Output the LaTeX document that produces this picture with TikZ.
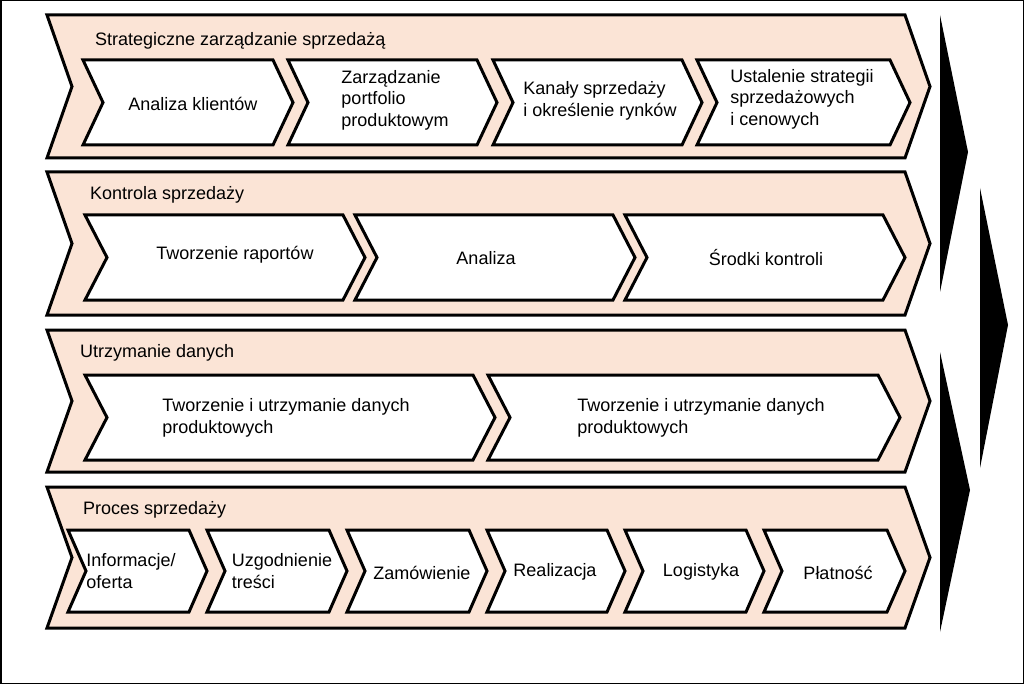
\documentclass[tikz,border=0pt]{standalone}
\usepackage{fontspec}
\setmainfont{Liberation Sans}
\definecolor{bandfill}{RGB}{251,228,214}
\tikzset{
  band/.style={draw=black, line width=3pt, fill=bandfill, line join=miter},
  step box/.style={draw=black, line width=3pt, fill=white, line join=miter},
  lbl/.style={font=\fontsize{18}{21.5}\selectfont, align=left, inner sep=0pt},
}
% chevron: x1, x2, ytop, ybottom, depth
\def\chev#1#2#3#4#5{(#1,#3) -- ({#2-#5},#3) -- (#2,{(#3+#4)/2}) -- ({#2-#5},#4) -- (#1,#4) -- ({#1+#5},{(#3+#4)/2}) -- cycle}
\begin{document}
\begin{tikzpicture}[x=1pt,y=-1pt]
    \useasboundingbox (0,0) rectangle (1024,684);
    \draw[line width=1.5pt] (0.75,0.75) rectangle (1023.25,683.25);

    % Bands
    \foreach \yt/\yb in {15/158, 172/315, 330/472, 487/628} {
        \draw[band] \chev{47}{930}{\yt}{\yb}{25};
    }

    % Band titles
    \node[lbl, anchor=west] (tstrat) at (95,41) {Strategiczne zarządzanie sprzedażą};
    \node[lbl, anchor=west] (tkontr) at (90,195) {Kontrola sprzedaży};
    \node[lbl, anchor=west] (tutrz) at (80,353) {Utrzymanie danych};
    \node[lbl, anchor=west] (tproc) at (83,510) {Proces sprzedaży};

    % Steps of band 1
    \foreach \xa/\xb in {83/293, 288/497, 493/702, 697/910} {
        \draw[step box] \chev{\xa}{\xb}{60}{145}{20};
    }
    \node[lbl] (analiza) at (193,104) {Analiza klientów};
    \node[lbl] (portfolio) at (395,100) {Zarządzanie\\portfolio\\produktowym};
    \node[lbl] (kanaly) at (600,101) {Kanały sprzedaży\\i określenie rynków};
    \node[lbl] (strategie) at (802,99) {Ustalenie strategii\\sprzedażowych\\i cenowych};

    % Steps of band 2
    \foreach \xa/\xb in {85/365, 355/635, 625/905} {
        \draw[step box] \chev{\xa}{\xb}{215}{300}{22};
    }
    \node[lbl] (raporty) at (235,255) {Tworzenie raportów};
    \node[lbl] (analiza2) at (486,258) {Analiza};
    \node[lbl] (srodki) at (766,258) {Środki kontroli};

    % Steps of band 3
    \foreach \xa/\xb in {85/495, 488/900} {
        \draw[step box] \chev{\xa}{\xb}{375}{460}{22};
    }
    \node[lbl] (dane1) at (286,418) {Tworzenie i utrzymanie danych\\produktowych};
    \node[lbl] (dane2) at (701,418) {Tworzenie i utrzymanie danych\\produktowych};

    % Steps of band 4
    \foreach \xa/\xb in {68/207, 207/347, 347/487, 487/625, 625/764, 764/905} {
        \draw[step box] \chev{\xa}{\xb}{530}{612}{18};
    }
    \node[lbl] (oferta) at (131,571) {Informacje/\\oferta};
    \node[lbl] (uzgod) at (282,571) {Uzgodnienie\\treści};
    \node[lbl] (zamow) at (422,573) {Zamówienie};
    \node[lbl] (realiz) at (555,572) {Realizacja};
    \node[lbl] (logist) at (701,572) {Logistyka};
    \node[lbl] (platn) at (838,573) {Płatność};

    % Black arrows on the right
    \fill (940,15) -- (968,152) -- (940,292) -- cycle;
    \fill (980,188) -- (1008,325) -- (980,468) -- cycle;
    \fill (940,352) -- (970,490) -- (940,632) -- cycle;
\end{tikzpicture}
\end{document}
